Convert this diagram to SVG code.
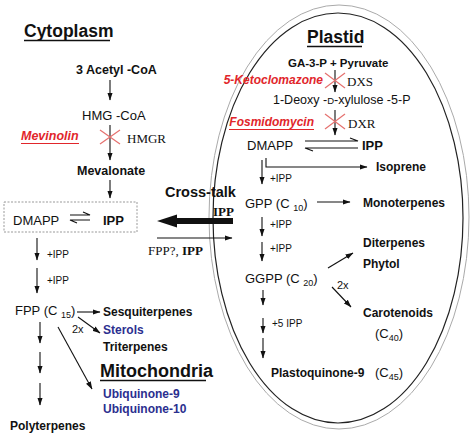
<svg xmlns="http://www.w3.org/2000/svg" width="474" height="434" viewBox="0 0 474 434">
<defs>
<marker id="ah" markerUnits="userSpaceOnUse" markerWidth="8" markerHeight="6" refX="7.5" refY="3" orient="auto"><path d="M0,0.3 L8,3 L0,5.7 z" fill="#111"/></marker>
<style>
text{font-family:"Liberation Sans",Arial,sans-serif;fill:#111;}
.b{font-weight:bold;font-size:12px;}
.n{font-size:13px;}
.s{font-size:10px;}
.h{font-weight:bold;font-size:17.5px;}
.sr{font-family:"Liberation Serif","Times New Roman",serif;font-size:13px;}
.red{fill:#e1262b;font-weight:bold;font-style:italic;font-size:12.5px;}
.blue{fill:#2b2f8f;font-weight:bold;font-size:12px;}
.ln{stroke:#111;stroke-width:1.1;fill:none;}
.ar{stroke:#111;stroke-width:1.1;fill:none;marker-end:url(#ah);}
.x{stroke:#e5706e;stroke-width:1.2;}
.ul{stroke:#111;stroke-width:1.3;}
</style>
</defs>
<rect width="474" height="434" fill="#fff"/>

<g id="plastid-membrane">
<ellipse cx="339" cy="217" rx="130" ry="212" fill="none" stroke="#aaa" stroke-width="1"/>
<ellipse cx="338" cy="218" rx="125" ry="205" fill="none" stroke="#222" stroke-width="1.2"/>
</g>

<g id="connectors">
<line class="ar" x1="110" y1="80" x2="110" y2="100"/>
<line class="ar" x1="110" y1="125" x2="110" y2="160"/>
<line class="ar" x1="110" y1="180" x2="110" y2="198"/>
<line class="ar" x1="37" y1="238" x2="37" y2="260"/>
<line class="ar" x1="37" y1="268" x2="37" y2="293"/>
<line class="ar" x1="77" y1="312" x2="100" y2="312"/>
<line class="ar" x1="78" y1="317" x2="100" y2="333"/>
<line class="ar" x1="58" y1="327" x2="92" y2="389"/>
<line class="ar" x1="40" y1="322" x2="40" y2="343"/>
<line class="ar" x1="40" y1="352" x2="40" y2="373"/>
<line class="ar" x1="40" y1="383" x2="40" y2="405"/>
<polygon points="157,221 177,214.5 177,218 233,218 233,224 177,224 177,227.5" fill="#111"/>
<line class="ar" x1="157" y1="238" x2="232" y2="238"/>
<line class="ar" x1="335" y1="70" x2="335" y2="92"/>
<line class="ar" x1="335" y1="110" x2="335" y2="135"/>
<path class="ar" d="M266,158 V167 H367"/>
<line class="ar" x1="262" y1="160" x2="262" y2="184"/>
<line class="ar" x1="317" y1="202" x2="350" y2="202"/>
<line class="ar" x1="262" y1="217" x2="262" y2="236"/>
<line class="ar" x1="262" y1="242" x2="262" y2="261"/>
<line class="ar" x1="328" y1="268" x2="353" y2="253"/>
<line class="ar" x1="332" y1="287" x2="351" y2="307"/>
<line class="ar" x1="263" y1="290" x2="263" y2="305"/>
<line class="ar" x1="263" y1="318" x2="263" y2="333"/>
<line class="ar" x1="263" y1="338" x2="263" y2="358"/>
<!-- equilibrium harpoons -->
<path class="ln" d="M70,215 H90 L83,212"/>
<path class="ln" d="M90,220 H70 L77,223"/>
<path class="ln" d="M305,141 H358 L350,138"/>
<path class="ln" d="M358,148 H305 L313,151"/>
<!-- inhibition crosses -->
<line class="x" x1="100" y1="130" x2="120" y2="144"/>
<line class="x" x1="100" y1="144" x2="120" y2="130"/>
<line class="x" x1="325" y1="73" x2="345" y2="88"/>
<line class="x" x1="325" y1="88" x2="345" y2="73"/>
<line class="x" x1="325" y1="114" x2="345" y2="129"/>
<line class="x" x1="325" y1="129" x2="345" y2="114"/>
</g>

<g id="cytoplasm-title"><text class="h" x="24" y="37">Cytoplasm</text><line class="ul" x1="24" y1="40.5" x2="110" y2="40.5"/></g>
<g id="acetyl-coa"><text class="b" x="76" y="74" style="font-size:12.5px">3 Acetyl -CoA</text></g>
<g id="hmg-coa"><text class="n" x="82" y="120">HMG -CoA</text></g>
<g id="mevinolin"><text class="red" x="21" y="140">Mevinolin</text><line x1="21" y1="143.5" x2="79" y2="143.5" stroke="#e1262b" stroke-width="1.2"/></g>
<g id="hmgr"><text class="sr" x="127" y="143">HMGR</text></g>
<g id="mevalonate"><text class="b" x="77" y="175" style="font-size:12.5px">Mevalonate</text></g>
<g id="cyto-pool">
<rect x="4" y="202" width="133" height="30" fill="none" stroke="#999" stroke-width="1" stroke-dasharray="2,1.5"/>
<text class="n" x="13" y="225">DMAPP</text>
<text class="n" x="103" y="225" font-weight="bold">IPP</text>
</g>
<g id="cyto-ipp1"><text class="s" x="47" y="258">+IPP</text></g>
<g id="cyto-ipp2"><text class="s" x="47" y="284">+IPP</text></g>
<g id="fpp"><text class="n" x="15" y="315">FPP (C <tspan font-size="9" dy="3">15</tspan><tspan dy="-3">)</tspan></text></g>
<g id="sesquiterpenes"><text class="b" x="103" y="316">Sesquiterpenes</text></g>
<g id="fpp-2x"><text x="72" y="333" font-size="11">2x</text></g>
<g id="sterols"><text class="blue" x="103" y="334">Sterols</text></g>
<g id="triterpenes"><text class="b" x="103" y="351">Triterpenes</text></g>
<g id="mitochondria-title"><text class="h" x="100" y="377" style="font-size:18px">Mitochondria</text><line class="ul" x1="100" y1="380.5" x2="206" y2="380.5"/></g>
<g id="ubiquinone-9"><text class="blue" x="103" y="398">Ubiquinone-9</text></g>
<g id="ubiquinone-10"><text class="blue" x="103" y="413">Ubiquinone-10</text></g>
<g id="polyterpenes"><text class="b" x="10" y="430">Polyterpenes</text></g>

<g id="cross-talk"><text class="b" x="165" y="197" style="font-size:14.5px">Cross-talk</text></g>
<g id="crosstalk-ipp"><text class="sr" x="213" y="216" font-weight="bold" font-size="12">IPP</text></g>
<g id="crosstalk-fpp"><text class="sr" x="148" y="255" font-size="12">FPP?, <tspan font-weight="bold">IPP</tspan></text></g>

<g id="plastid-title"><text class="h" x="307" y="43">Plastid</text><line class="ul" x1="307" y1="46.5" x2="362" y2="46.5"/></g>
<g id="ga3p"><text class="b" x="288" y="67" style="font-size:11.5px">GA-3-P + Pyruvate</text></g>
<g id="ketoclomazone"><text class="red" x="323" y="84" text-anchor="end" style="font-size:12px">5-Ketoclomazone</text></g>
<g id="dxs"><text class="sr" x="347" y="86" font-size="12">DXS</text></g>
<g id="dxp"><text class="n" x="273" y="104" style="font-size:12.5px">1-Deoxy -<tspan font-size="9.5">D</tspan>-xylulose -5-P</text></g>
<g id="fosmidomycin"><text class="red" x="314" y="126" text-anchor="end" style="font-size:12px">Fosmidomycin</text><line x1="229" y1="129.5" x2="314" y2="129.5" stroke="#e1262b" stroke-width="1.2"/></g>
<g id="dxr"><text class="sr" x="348" y="128" font-size="12">DXR</text></g>
<g id="plastid-dmapp"><text class="n" x="247" y="150">DMAPP</text></g>
<g id="plastid-ipp"><text class="n" x="362" y="150" font-weight="bold">IPP</text></g>
<g id="isoprene"><text class="b" x="376" y="171">Isoprene</text></g>
<g id="pl-ipp1"><text class="s" x="270" y="182">+IPP</text></g>
<g id="gpp"><text class="n" x="245" y="208">GPP (C <tspan font-size="9" dy="3">10</tspan><tspan dy="-3">)</tspan></text></g>
<g id="monoterpenes"><text class="b" x="363" y="207">Monoterpenes</text></g>
<g id="pl-ipp2"><text class="s" x="270" y="228">+IPP</text></g>
<g id="pl-ipp3"><text class="s" x="270" y="252">+IPP</text></g>
<g id="diterpenes"><text class="b" x="363" y="247">Diterpenes</text></g>
<g id="phytol"><text class="b" x="363" y="268">Phytol</text></g>
<g id="ggpp"><text class="n" x="245" y="283">GGPP (C <tspan font-size="9" dy="3">20</tspan><tspan dy="-3">)</tspan></text></g>
<g id="ggpp-2x"><text x="337" y="289" font-size="11">2x</text></g>
<g id="carotenoids"><text class="b" x="363" y="317">Carotenoids</text></g>
<g id="c40"><text class="n" x="375" y="338">(C<tspan font-size="9" dy="3">40</tspan><tspan dy="-3">)</tspan></text></g>
<g id="pl-5ipp"><text class="s" x="272" y="327">+5 IPP</text></g>
<g id="plastoquinone"><text class="b" x="271" y="377">Plastoquinone-9</text></g>
<g id="c45"><text class="n" x="375" y="377">(C<tspan font-size="9" dy="3">45</tspan><tspan dy="-3">)</tspan></text></g>
</svg>
